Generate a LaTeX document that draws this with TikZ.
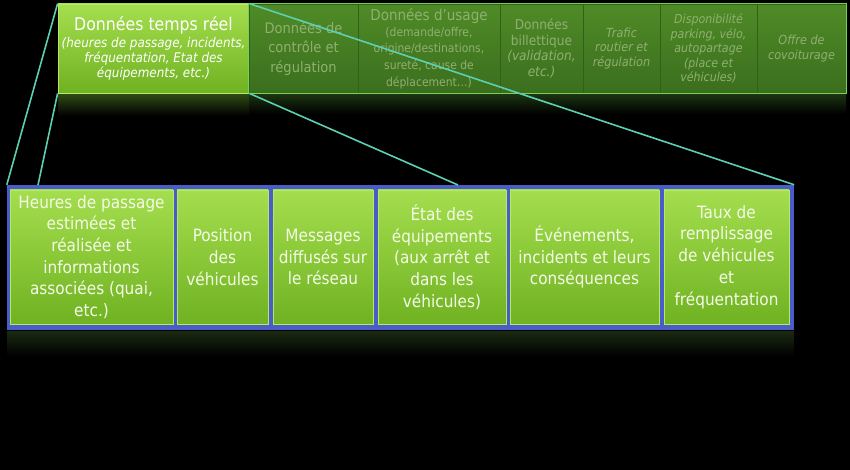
\documentclass[tikz,border=0pt]{standalone}
\usepackage{fontspec}
\setmainfont{DejaVu Sans Condensed}
\definecolor{greentop}{HTML}{A4DE4E}
\definecolor{greenbot}{HTML}{70B222}
\definecolor{greenedge}{HTML}{B4EA64}
\definecolor{darktop}{HTML}{4F8B27}
\definecolor{darkbot}{HTML}{3B6E1E}
\definecolor{darkedge}{HTML}{32601A}
\definecolor{darktext}{HTML}{90B070}
\definecolor{rowedge}{HTML}{72D452}
\definecolor{zoomteal}{HTML}{5CD0B2}
\definecolor{frameblue}{HTML}{4A5CC8}
\definecolor{feedtext}{HTML}{F4FAE8}
\definecolor{mirrorlive}{HTML}{2E4A14}
\definecolor{mirrordark}{HTML}{1C3410}
\definecolor{mirrorfeed}{HTML}{1A2A12}
\begin{document}
\begin{tikzpicture}[x=1pt, y=-1pt,
    livebox/.style={rectangle, inner sep=0pt, align=center, top color=greentop, bottom color=greenbot, draw=greenedge, line width=0.8pt, text=white},
    otherbox/.style={rectangle, inner sep=0pt, align=center, top color=darktop, bottom color=darkbot, draw=darkedge, line width=0.8pt, text=darktext},
    feedbox/.style={rectangle, inner sep=0pt, align=center, top color=greentop, bottom color=greenbot, draw=greenedge, line width=0.8pt, text=feedtext, minimum height=134, font=\fontsize{17}{21.7}\selectfont},
    zoomline/.style={draw=zoomteal, line width=1.6pt}]
  \useasboundingbox[fill=black] (0,0) rectangle (850,470);

  % reflections
  \shade[top color=mirrorlive, bottom color=black] (58,94) rectangle (249,116);
  \shade[top color=mirrordark, bottom color=black] (249,94) rectangle (846,114);
  \shade[top color=mirrorfeed, bottom color=black] (7,331) rectangle (794,356);

  % top row
  \node[livebox, minimum width=191, minimum height=89, font=\fontsize{13.3}{14.2}\selectfont\itshape] (tempsreel) at (153.5,48.5)
    {{\fontsize{17.5}{20}\selectfont\upshape Données temps réel}\\[2pt]
     (heures de passage, incidents,\\[1pt]
     fréquentation, Etat des\\[1pt]
     équipements, etc.)};

  \node[otherbox, minimum width=109, minimum height=89, font=\fontsize{14.5}{19.5}\selectfont] (controle) at (303.5,48.5)
    {Données de\\ contrôle et\\ régulation};
  \node[otherbox, minimum width=142, minimum height=89, font=\fontsize{12}{14.7}\selectfont] (usage) at (429,48.5)
    {{\fontsize{15}{17}\selectfont Données d’usage}\\[1pt]
     (demande/offre,\\[2pt]
     origine/destinations,\\[2pt]
     sureté, cause de\\[2pt]
     déplacement…)};
  \node[otherbox, minimum width=83, minimum height=89, font=\fontsize{13.5}{15.5}\selectfont] (billet) at (541.5,48.5)
    {Données\\ billettique\\ \textit{(validation,}\\ \textit{etc.)}};
  \node[otherbox, minimum width=77, minimum height=89, font=\fontsize{12.5}{14.7}\selectfont\itshape] (trafic) at (621.5,48.5)
    {Trafic\\ routier et\\ régulation};
  \node[otherbox, minimum width=97, minimum height=89, font=\fontsize{12.3}{14.6}\selectfont\itshape] (dispo) at (708.5,48.5)
    {Disponibilité\\ parking, vélo,\\ autopartage\\ (place et\\ véhicules)};
  \node[otherbox, minimum width=89, minimum height=89, font=\fontsize{12.5}{15}\selectfont\itshape] (covoit) at (801.5,48.5)
    {Offre de\\ covoiturage};
  \draw[rowedge, line width=1pt] (controle.north west) rectangle (covoit.south east);

  % zoom frame
  \node[rectangle, fill=frameblue, inner sep=0pt, minimum width=787, minimum height=145] (cadre) at (400.5,257.5) {};
  \coordinate (pied) at (38,185);
  \coordinate (milieu) at (458,185);

  \draw[zoomline] (tempsreel.north west) -- (cadre.north west);
  \draw[zoomline] (tempsreel.south west) -- (pied);
  \draw[zoomline] (tempsreel.north east) -- (cadre.north east);
  \draw[zoomline] (tempsreel.south east) -- (milieu);

  % detail row
  \node[feedbox, minimum width=163] (heures) at (91.5,257)
    {Heures de passage\\ estimées et\\ réalisée et\\ informations\\ associées (quai,\\ etc.)};
  \node[feedbox, minimum width=91] (position) at (222.5,257)
    {Position\\ des\\ véhicules};
  \node[feedbox, minimum width=100] (messages) at (323,257)
    {Messages\\ diffusés sur\\ le réseau};
  \node[feedbox, minimum width=128] (etat) at (442,257)
    {État des\\ équipements\\ (aux arrêt et\\ dans les\\ véhicules)};
  \node[feedbox, minimum width=149] (evenements) at (584.5,257)
    {Événements,\\ incidents et leurs\\ conséquences};
  \node[feedbox, minimum width=125] (taux) at (726.5,257)
    {Taux de\\ remplissage\\ de véhicules\\ et\\ fréquentation};
\end{tikzpicture}
\end{document}
